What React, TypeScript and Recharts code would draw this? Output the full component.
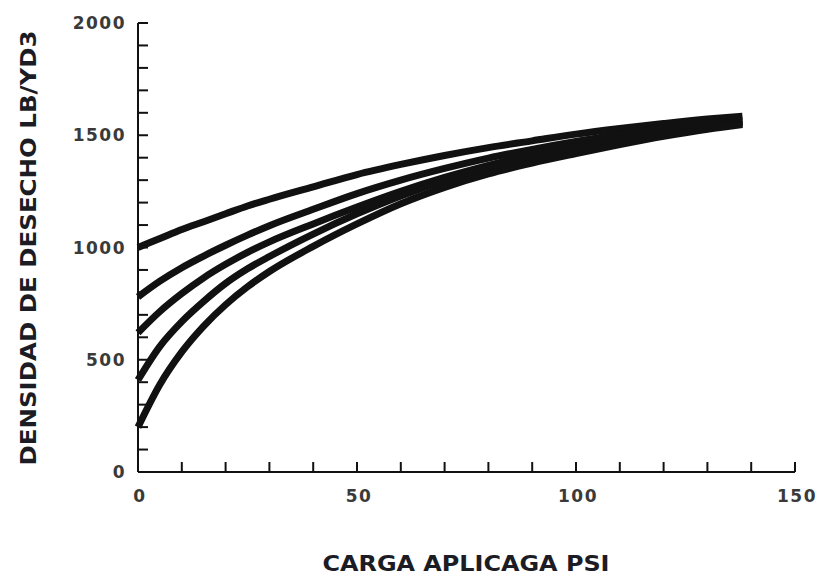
import React from 'react';
import { LineChart, Line, XAxis, YAxis } from 'recharts';

// carga aplicada (psi)
const cargaPsi = [0, 5, 10, 15, 20, 25, 30, 40, 50, 60, 70, 80, 90, 100, 110, 120, 130, 138];

// densidad de desecho (lb/yd3), one curve per initial density
const curva1000 = [1000, 1040, 1080, 1115, 1150, 1185, 1215, 1270, 1325, 1370, 1410, 1445, 1475, 1505, 1530, 1552, 1572, 1585];
const curva780 = [780, 850, 910, 962, 1010, 1055, 1097, 1170, 1240, 1300, 1352, 1398, 1437, 1472, 1503, 1530, 1553, 1570];
const curva620 = [620, 715, 795, 865, 925, 978, 1025, 1105, 1180, 1250, 1312, 1366, 1412, 1450, 1484, 1514, 1541, 1562];
const curva400 = [410, 560, 670, 760, 840, 905, 960, 1060, 1150, 1230, 1298, 1355, 1400, 1440, 1475, 1507, 1536, 1556];
const curva200 = [200, 390, 535, 650, 745, 825, 893, 1005, 1105, 1195, 1268, 1328, 1376, 1418, 1458, 1495, 1527, 1548];

const xTicks = [0, 10, 20, 30, 40, 50, 60, 70, 80, 90, 100, 110, 120, 130, 140, 150];
const xLabels = [0, 50, 100, 150];
const yTicks = [0, 100, 200, 300, 400, 500, 600, 700, 800, 900, 1000, 1100, 1200, 1300, 1400, 1500, 1600, 1700, 1800, 1900, 2000];
const yLabels = [0, 500, 1000, 1500, 2000];

const series = [curva1000, curva780, curva620, curva400, curva200];

const data = cargaPsi.map((x, i) => {
  const row: Record<string, number> = { x };
  series.forEach((s, k) => {
    row['c' + k] = s[i];
  });
  return row;
});

const tickFont = {
  fontFamily: '"DejaVu Sans", sans-serif',
  fontSize: 17,
  fontWeight: 'bold' as const,
  fill: '#3a3a3a',
  letterSpacing: 1.5,
};
const titleFont = '"Liberation Sans Narrow", "DejaVu Sans Condensed", "Liberation Sans", sans-serif';

function YTick(props: any) {
  const { x, y, payload } = props;
  const v = payload.value;
  return (
    <g>
      <line x1={x} y1={y} x2={x + 10} y2={y} stroke="#111" strokeWidth={2} />
      {yLabels.includes(v) && (
        <text x={x - 12} y={y} textAnchor="end" dominantBaseline="central" {...tickFont}>
          {v}
        </text>
      )}
    </g>
  );
}

function XTick(props: any) {
  const { x, y, payload } = props;
  const v = payload.value;
  return (
    <g>
      <line x1={x} y1={y} x2={x} y2={y - 10} stroke="#111" strokeWidth={2} />
      {xLabels.includes(v) && (
        <text x={x + 2} y={y + 24} textAnchor="middle" dominantBaseline="central" {...tickFont}>
          {v}
        </text>
      )}
    </g>
  );
}

export default function App() {
  return (
    <div style={{ position: 'absolute', left: 0, top: 0, background: '#fff' }}>
      <LineChart width={818} height={577} data={data} margin={{ top: 23, right: 23, bottom: 65, left: 0 }}>
        <XAxis
          type="number"
          dataKey="x"
          domain={[0, 150]}
          ticks={xTicks}
          interval={0}
          height={40}
          tickSize={0}
          tickMargin={0}
          tick={<XTick />}
          axisLine={{ stroke: '#111', strokeWidth: 2 }}
        />
        <YAxis
          type="number"
          domain={[0, 2000]}
          ticks={yTicks}
          interval={0}
          width={138}
          tickSize={0}
          tickMargin={0}
          tick={<YTick />}
          axisLine={{ stroke: '#111', strokeWidth: 2 }}
        />
        {series.map((_, k) => (
          <Line
            key={k}
            dataKey={'c' + k}
            type="monotone"
            stroke="#111"
            strokeWidth={7}
            dot={false}
            isAnimationActive={false}
          />
        ))}
        <text
          x={28}
          y={248}
          transform="rotate(-90 28 248)"
          textAnchor="middle"
          dominantBaseline="central"
          fontFamily={titleFont}
          fontWeight="bold"
          fontSize={22}
          fill="#1c1c24"
          textLength={435}
          lengthAdjust="spacingAndGlyphs"
        >
          DENSIDAD DE DESECHO LB/YD3
        </text>
        <text
          x={466}
          y={563}
          textAnchor="middle"
          dominantBaseline="central"
          fontFamily={titleFont}
          fontWeight="bold"
          fontSize={22}
          fill="#1c1c24"
          textLength={287}
          lengthAdjust="spacingAndGlyphs"
        >
          CARGA APLICAGA PSI
        </text>
      </LineChart>
    </div>
  );
}
